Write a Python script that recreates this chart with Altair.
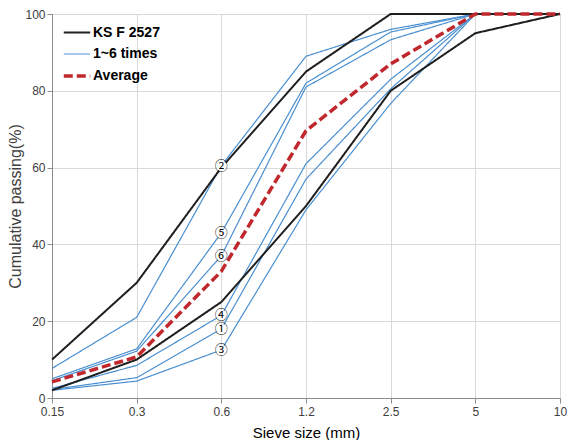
import altair as alt
import pandas as pd

# ---- data ----
sieve = ["0.15", "0.3", "0.6", "1.2", "2.5", "5", "10"]
ks_upper = [10, 30, 60, 85, 100, 100, 100]
ks_lower = [2, 10, 25, 50, 80, 95, 100]
run1 = [2.2, 5.3, 18, 57, 80.5, 100, 100]
run2 = [7.7, 21, 60.5, 89, 96, 100, 100]
run3 = [2.0, 4.4, 12.5, 49, 76.7, 100, 100]
run4 = [2.5, 8.5, 21.5, 61, 83, 100, 100]
run5 = [5.0, 12.8, 43, 82, 95.3, 100, 100]
run6 = [4.5, 12.2, 37, 81, 93.3, 100, 100]
average = [4.2, 10.7, 33, 69.6, 87, 100, 100]

run_labels = ["①", "②", "③", "④", "⑤", "⑥"]
label_sieve = "0.6"

groups = ["KS F 2527", "1~6 times", "Average"]
colors = ["#1e1e1e", "#4a8fd0", "#c0282d"]
dashes = [[1, 0], [1, 0], [9, 4]]
widths = [2, 1.2, 3.5]

runs = [run1, run2, run3, run4, run5, run6]

rows = []
def add(series, group, values):
    for i, (s, v) in enumerate(zip(sieve, values)):
        rows.append({"sieve": s, "idx": i, "value": v, "series": series, "group": group})

for k, r in enumerate(runs):
    add(f"run{k+1}", groups[1], r)
add("ks_upper", groups[0], ks_upper)
add("ks_lower", groups[0], ks_lower)
add("average", groups[2], average)
df = pd.DataFrame(rows)

li = sieve.index(label_sieve)
lab_df = pd.DataFrame({
    "sieve": [label_sieve] * 6,
    "value": [r[li] for r in runs],
    "label": run_labels,
})

FONT = "Liberation Sans"

x_enc = alt.X("sieve:O", sort=sieve,
              scale=alt.Scale(type="point", padding=0),
              axis=alt.Axis(title="Sieve size (mm)", labelAngle=0, grid=True,
                            gridColor="#d9d9d9", domainColor="#8c8c8c",
                            tickColor="#8c8c8c", tickSize=5, labelPadding=3,
                            labelFont=FONT, labelFontSize=12, labelColor="#404040",
                            titleFont=FONT, titleFontSize=15, titleFontWeight="normal",
                            titleColor="#000000", titlePadding=8))
y_enc = alt.Y("value:Q", scale=alt.Scale(domain=[0, 100], nice=False),
              axis=alt.Axis(title="Cumulative passing(%)", values=[0, 20, 40, 60, 80, 100],
                            grid=True, gridColor="#d9d9d9", domainColor="#8c8c8c",
                            tickColor="#8c8c8c", tickSize=5, labelPadding=2,
                            labelFont=FONT, labelFontSize=12, labelColor="#404040",
                            titleFont=FONT, titleFontSize=16, titleFontWeight="normal",
                            titleColor="#404040", titlePadding=1))

color_enc = alt.Color("group:N", scale=alt.Scale(domain=groups, range=colors),
                      legend=alt.Legend(title=None, orient="none", legendX=10, legendY=4,
                                        symbolType="stroke", symbolSize=700,
                                        labelFont=FONT, labelFontSize=14,
                                        labelFontWeight="bold", labelColor="#000000",
                                        labelOffset=1, rowPadding=-7))
dash_enc = alt.StrokeDash("group:N", scale=alt.Scale(domain=groups, range=dashes))
width_enc = alt.StrokeWidth("group:O", scale=alt.Scale(type="ordinal", domain=groups, range=widths))


def layer_for(group):
    return alt.Chart(df).transform_filter(alt.datum.group == group).mark_line().encode(
        x=x_enc, y=y_enc, color=color_enc, strokeDash=dash_enc, strokeWidth=width_enc,
        detail="series:N", order=alt.Order("idx:Q"))

runs_layer = layer_for(groups[1])
ks_layer = layer_for(groups[0])
avg_layer = layer_for(groups[2])

dots = alt.Chart(lab_df).mark_point(filled=True, shape="circle", size=110,
                                    color="white", opacity=1).encode(
    x=alt.X("sieve:O", sort=sieve), y="value:Q")
texts = alt.Chart(lab_df).mark_text(font="Noto Sans CJK KR", fontSize=13,
                                    color="#000000", baseline="middle", align="center").encode(
    x=alt.X("sieve:O", sort=sieve), y="value:Q", text="label:N")

chart = alt.layer(runs_layer, ks_layer, avg_layer, dots, texts).properties(
    width=508, height=384,
    autosize=alt.AutoSizeParams(type="none"),
    padding={"left": 44, "top": 6, "right": 7, "bottom": 42},
).configure_view(stroke="#5f5f5f", strokeWidth=1)

chart.save("out.html", embed_options={"renderer": "svg", "actions": False})
